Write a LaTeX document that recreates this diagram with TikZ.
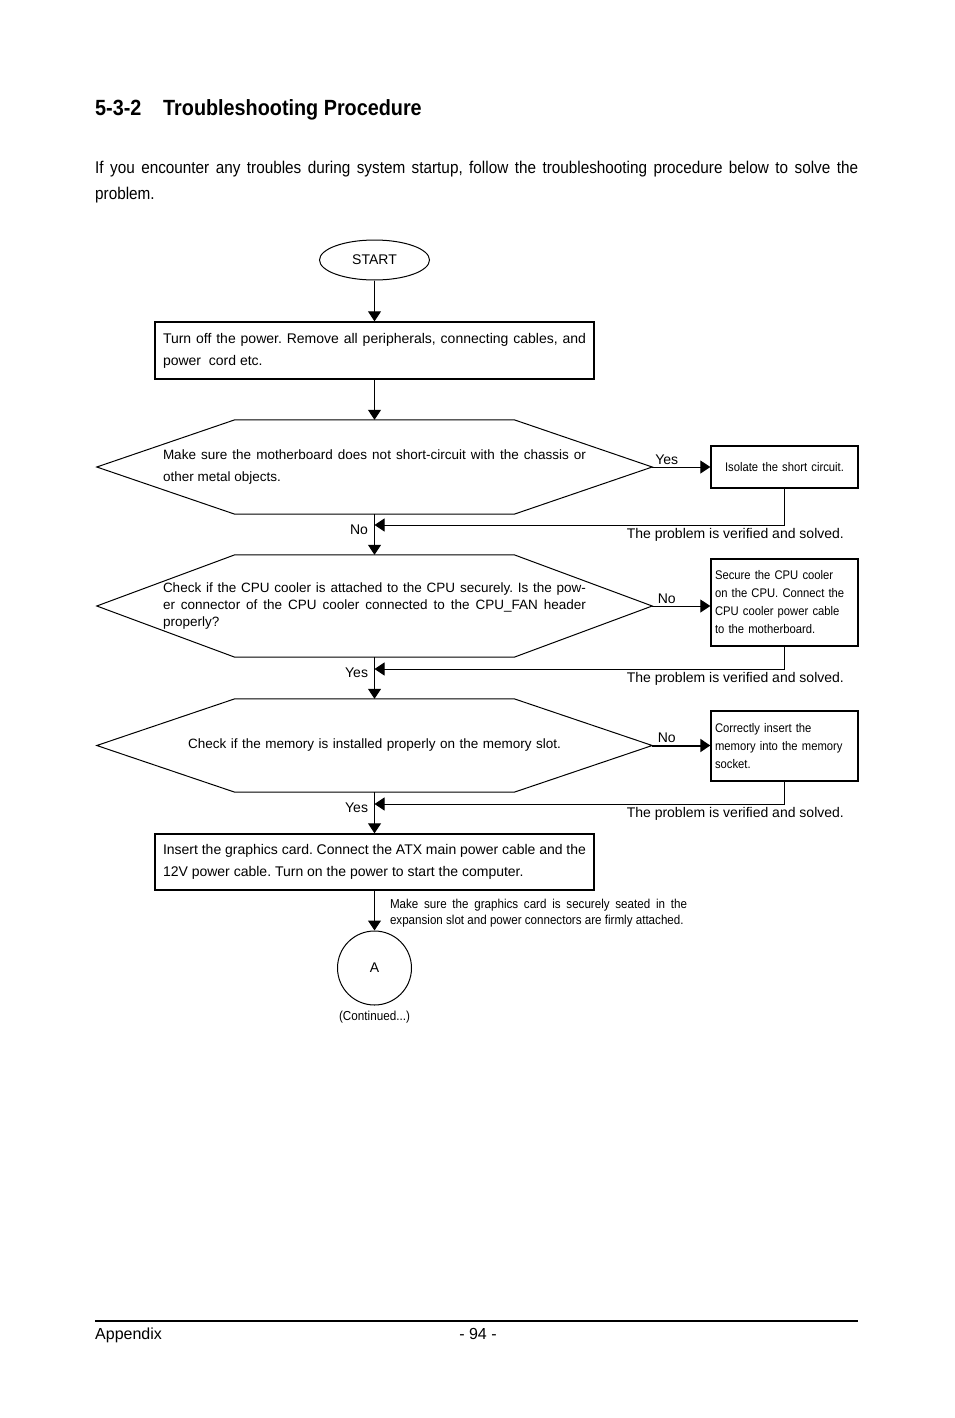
\documentclass[tikz,border=0pt]{standalone}
\usepackage{fontspec}
\setmainfont{Liberation Sans}
\newfontfamily\narrowfont{Liberation Sans}[FakeStretch=0.9]
\usetikzlibrary{positioning}
\usetikzlibrary{arrows.meta}
\usetikzlibrary{shapes.geometric}

\tikzset{
  flow/.style={-{Triangle[width=13pt,length=10pt]}, line width=1pt},
  terminal/.style={draw, ellipse, line width=1pt, minimum width=110pt, minimum height=40pt, font=\fontsize{14}{16}\selectfont},
  process/.style={draw, line width=1.4pt, text width=423pt, inner xsep=8pt, inner ysep=0pt, align=justify, font=\fontsize{14}{22}\selectfont},
  decision/.style={text width=423pt, inner sep=0pt, minimum width=555pt, align=justify, font=\fontsize{13.5}{22}\selectfont},
  hexline/.style={line width=1pt},
  fixbox/.style={draw, line width=1.4pt, text width=139pt, inner xsep=4pt, inner ysep=0pt, align=left, font=\narrowfont\fontsize{12.5}{18}\selectfont},
  lbl/.style={font=\fontsize{14}{16}\selectfont, inner sep=2pt},
  solved/.style={font=\fontsize{14}{16}\selectfont, inner sep=3pt},
  note/.style={text width=297pt, inner sep=0pt, align=justify, font=\narrowfont\fontsize{12.9}{16}\selectfont},
}

% hexagon outline round a decision node
\newcommand\hexof[1]{%
  \draw[hexline] (#1.west) -- ([xshift=138pt]#1.north west) -- ([xshift=-138pt]#1.north east)
    -- (#1.east) -- ([xshift=-138pt]#1.south east) -- ([xshift=138pt]#1.south west) -- cycle;}

\frenchspacing
\begin{document}
\begin{tikzpicture}[x=1pt, y=-1pt]
    \useasboundingbox (0,0) rectangle (954,1418);

    % heading and intro
    \node[anchor=base west, inner sep=0pt, font=\narrowfont\fontsize{22}{26}\selectfont\bfseries] (secnum) at (95,116) {5-3-2};
    \node[anchor=base west, inner sep=0pt, font=\narrowfont\fontsize{22}{26}\selectfont\bfseries] (sectitle) at (163,116) {Troubleshooting Procedure};
    \node[anchor=north west, inner sep=0pt, text width=763pt, align=justify, font=\narrowfont\fontsize{17}{26}\selectfont] (intro) at (95,161)
        {If you encounter any troubles during system startup, follow the troubleshooting procedure below to solve the\linebreak problem.};

    % flow
    \node[terminal] (start) at (374.5,260) {START};
    \node[process, minimum height=57pt] (poweroff) at (374.5,350.5)
        {Turn off the power. Remove all peripherals, connecting cables, and\linebreak power\ \ cord etc.};

    \node[decision, minimum height=94pt] (short) at (374.5,467)
        {Make sure the motherboard does not short-circuit with the chassis or\linebreak other metal objects.};
    \hexof{short}
    \node[fixbox, align=center, minimum height=42pt] (isolate) at (784.5,467) {Isolate the short circuit.};

    \node[decision, minimum height=102pt, font=\fontsize{13.5}{17}\selectfont] (cooler) at (374.5,606)
        {Check if the CPU cooler is attached to the CPU securely. Is the pow-\linebreak er connector of the CPU cooler connected to the CPU\_FAN header\linebreak properly?};
    \hexof{cooler}
    \node[fixbox, minimum height=87pt] (fixcooler) at (784.5,602.5)
        {Secure the CPU cooler\\ on the CPU. Connect the\\ CPU cooler power cable\\ to the motherboard.};

    \node[decision, align=center, minimum height=93pt] (memory) at (374.5,745.5)
        {Check if the memory is installed properly on the memory slot.};
    \hexof{memory}
    \node[fixbox, minimum height=70pt] (fixmemory) at (784.5,746)
        {Correctly insert the\\ memory into the memory\\ socket.};

    \node[process, minimum height=56pt] (graphics) at (374.5,862)
        {Insert the graphics card. Connect the ATX main power cable and the\linebreak 12V power cable. Turn on the power to start the computer.};
    \node[draw, circle, line width=1pt, minimum size=74pt, inner sep=0pt, font=\fontsize{14}{16}\selectfont] (contA) at (374.5,968) {A};
    \node[below=5pt of contA, inner sep=0pt, font=\narrowfont\fontsize{13}{15}\selectfont] (continued) {(Continued...)};

    \coordinate (join1) at (374.5,525);
    \coordinate (join2) at (374.5,669);
    \coordinate (join3) at (374.5,804);

    \draw[flow] (start) -- (poweroff);
    \draw[flow] (poweroff) -- (short.north);
    \draw[flow] (short.east) -- node[lbl, near start, above] {Yes} (isolate.west);
    \draw[flow] (isolate.south) |- node[solved, pos=0.56, below] {The problem is verified and solved.} (join1);
    \draw[flow] (short.south) -- node[lbl, pos=0.38, left, xshift=-4pt] {No} (cooler.north);
    \draw[flow] (cooler.east) -- node[lbl, near start, above] {No} (cooler.east -| fixcooler.west);
    \draw[flow] (fixcooler.south) |- node[solved, pos=0.56, below] {The problem is verified and solved.} (join2);
    \draw[flow] (cooler.south) -- node[lbl, pos=0.38, left, xshift=-4pt] {Yes} (memory.north);
    \draw[flow, line width=2pt] (memory.east) -- node[lbl, near start, above] {No} (memory.east -| fixmemory.west);
    \draw[flow] (fixmemory.south) |- node[solved, pos=0.56, below] {The problem is verified and solved.} (join3);
    \draw[flow] (memory.south) -- node[lbl, pos=0.38, left, xshift=-4pt] {Yes} (graphics.north);
    \draw[flow] (graphics.south) -- node[note, anchor=west, xshift=15pt, yshift=-3pt]
        {Make sure the graphics card is securely seated in the\linebreak expansion slot and power connectors are firmly attached.} (contA.north);

    % footer
    \draw[line width=2pt] (95,1321) -- (858,1321);
    \node[anchor=base west, inner sep=0pt, font=\fontsize{16}{18}\selectfont] (appendix) at (95,1339) {Appendix};
    \node[anchor=base, inner sep=0pt, font=\fontsize{16}{18}\selectfont] (pageno) at (478,1339) {- 94 -};
\end{tikzpicture}
\end{document}
